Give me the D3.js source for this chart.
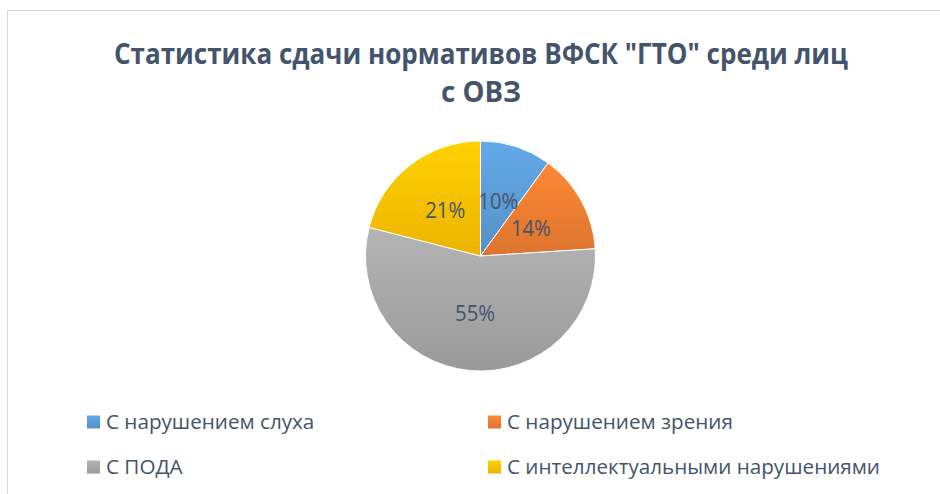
<!DOCTYPE html>
<html><head><meta charset="utf-8">
<script src="https://cdn.jsdelivr.net/npm/d3@7"></script>
<style>html,body{margin:0;padding:0;background:#fff;}svg{display:block;}</style>
</head><body>
<svg id="c" width="940" height="494"></svg>
<script>
const categories = ["С нарушением слуха", "С нарушением зрения", "С ПОДА", "С интеллектуальными нарушениями"];
const values = [10, 14, 55, 21];
const labels = ["10%", "14%", "55%", "21%"];
const colors = ["#5B9BD5", "#ED7D31", "#A5A5A5", "#FFC000"];
const titleLines = ['Статистика сдачи нормативов ВФСК "ГТО" среди лиц', 'с ОВЗ'];

const svg = d3.select("#c");
const textColor = "#44546A";
const font = "'Open Sans', 'Liberation Sans', sans-serif";

svg.append("rect").attr("x", 7.5).attr("y", 10.5).attr("width", 960).attr("height", 520)
  .attr("fill", "#fff").attr("stroke", "#D9D9D9").attr("stroke-width", 1);

// title
const tWidths = [734, 80];
const tY = [64, 102];
titleLines.forEach((t, i) => {
  svg.append("text").attr("x", 481).attr("y", tY[i]).attr("text-anchor", "middle")
    .attr("font-family", font).attr("font-weight", 700).attr("font-size", 29)
    .attr("fill", textColor)
    .attr("textLength", tWidths[i]).attr("lengthAdjust", "spacingAndGlyphs")
    .text(t);
});

// gradients
const defs = svg.append("defs");
colors.forEach((c, i) => {
  const g = defs.append("linearGradient").attr("id", "g" + i)
    .attr("x1", 0).attr("y1", 0).attr("x2", 0).attr("y2", 1);
  g.append("stop").attr("offset", "0%").attr("stop-color", d3.color(c).brighter(0.25));
  g.append("stop").attr("offset", "100%").attr("stop-color", d3.color(c).darker(0.2));
});

const cx = 480.5, cy = 256, R = 115;
const pie = d3.pie().sort(null).value(d => d)(values);
const arc = d3.arc().innerRadius(0).outerRadius(R);
const labelArc = d3.arc().innerRadius(R * 0.5).outerRadius(R * 0.5);
const gp = svg.append("g").attr("transform", `translate(${cx},${cy})`);
gp.selectAll("path").data(pie).enter().append("path")
  .attr("d", arc).attr("fill", (d, i) => `url(#g${i})`)
  .attr("stroke", "#fff").attr("stroke-width", 1);
gp.selectAll("text").data(pie).enter().append("text")
  .attr("transform", d => `translate(${labelArc.centroid(d)})`)
  .attr("text-anchor", "middle").attr("dy", "0.36em")
  .attr("font-family", font).attr("font-size", 21).attr("fill", textColor)
  .attr("textLength", 40).attr("lengthAdjust", "spacingAndGlyphs")
  .text((d, i) => labels[i]);

// legend
const legX = [87, 488], legTextX = [106, 507], legY = [422, 467];
const legFont = 20;
const legTexts = categories.map((c, i) => {
  const col = i % 2, row = Math.floor(i / 2);
  svg.append("rect").attr("x", legX[col]).attr("y", legY[row] - 6.5).attr("width", 13).attr("height", 13)
    .attr("fill", `url(#g${i})`);
  return svg.append("text").attr("x", legTextX[col]).attr("y", legY[row]).attr("dy", "0.36em")
    .attr("font-family", font).attr("font-size", legFont).attr("fill", textColor)
    .text(c);
});
const scale = 373 / legTexts[3].node().getComputedTextLength();
legTexts.forEach(t => {
  t.attr("textLength", t.node().getComputedTextLength() * scale).attr("lengthAdjust", "spacingAndGlyphs");
});
</script>
</body></html>
